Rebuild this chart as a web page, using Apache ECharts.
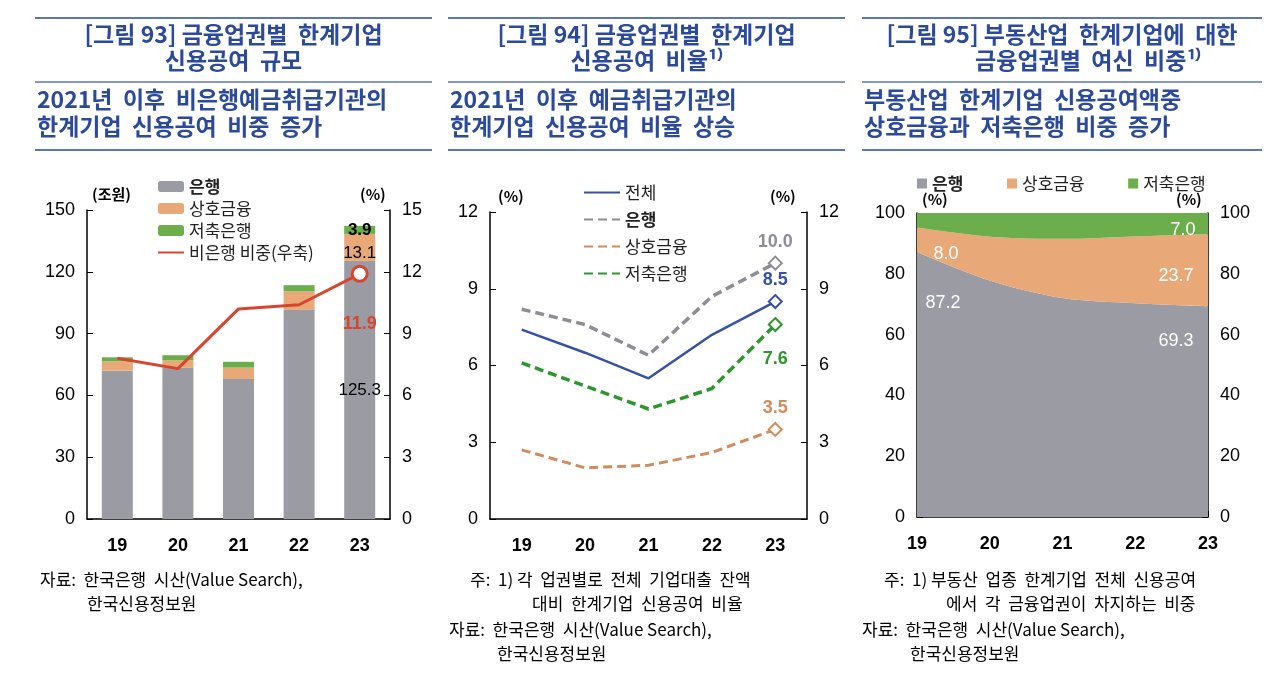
<!DOCTYPE html>
<html><head><meta charset="utf-8">
<script src="https://cdn.jsdelivr.net/npm/echarts@6/dist/echarts.min.js"></script>
<style>html,body{margin:0;background:#fff}#c{width:1280px;height:690px}</style>
</head><body><div id="c"></div>
<script>
// 공통 카테고리
var years = ['19', '20', '21', '22', '23'];

// 그림 93 (조원, %)
var bankAmt = [72, 73.5, 68, 101.5, 125.3];
var mutualAmt = [4.5, 3.5, 5.5, 9, 13.1];
var savingsAmt = [2, 2.5, 2.8, 3, 3.9];
var nonBankShare = [7.8, 7.3, 10.2, 10.4, 11.9];

// 그림 94 (%)
var ratioAll = [7.4, 6.5, 5.5, 7.2, 8.5];
var ratioBank = [8.2, 7.6, 6.4, 8.7, 10.0];
var ratioMutual = [2.7, 2.0, 2.1, 2.6, 3.5];
var ratioSavings = [6.1, 5.2, 4.3, 5.1, 7.6];

// 그림 95 (%)
var shareBank = [87.2, 77.8, 72, 70.3, 69.3];
var shareMutual = [8.0, 14.4, 19.5, 22, 23.7];
var shareSavings = [4.9, 7.8, 8.5, 7.7, 7.0];

var FONT = '"Noto Sans CJK KR", sans-serif';
var BLUE = '#2b4a9c', RULE = '#5a78b8';
var cGray = '#9b9ba4', cOrange = '#e8a878', cGreen = '#6cae4c', cRed = '#d8452f';

var chart = echarts.init(document.getElementById('c'));

function fmt1(p) { return Number(p.value).toFixed(1); }

function axisY(grid, idx, pos, max, step) {
  return {
    type: 'value', gridIndex: grid, position: pos, min: 0, max: max, interval: step,
    splitLine: {show: false},
    axisLine: {show: true, lineStyle: {color: '#000', width: 1.5}},
    axisTick: {show: true, inside: true, length: 6, lineStyle: {color: '#000'}},
    axisLabel: {color: '#000', fontSize: 18, fontFamily: 'Arial', margin: 12}
  };
}
function axisX(grid, gap) {
  return {
    type: 'category', gridIndex: grid, data: years, boundaryGap: gap,
    axisLine: {lineStyle: {color: '#000', width: 1.5}},
    axisTick: {inside: true, length: 6, lineStyle: {color: '#000'}},
    axisLabel: {color: '#000', fontSize: 18, fontWeight: 'bold', fontFamily: 'Arial', margin: 18}
  };
}

function txt(x, y, s, opt) {
  opt = opt || {};
  return {type: 'text', left: x, top: y, style: {text: s, fill: opt.fill || '#000',
    font: (opt.weight || 'normal') + ' ' + (opt.size || 17) + 'px ' + FONT, textAlign: opt.align || 'left'}};
}
function rule(x1, x2, y, w) {
  return {type: 'line', shape: {x1: x1, y1: y, x2: x2, y2: y}, style: {stroke: RULE, lineWidth: w || 2}};
}
function header(x1, x2, l1, l2, s1, s2) {
  var cx = (x1 + x2) / 2, out = [rule(x1, x2, 18, 2), rule(x1, x2, 82, 1.5), rule(x1, x2, 150, 2)];
  [[l1, 23], [l2, 49], [s1, 88], [s2, 115]].forEach(function (p, i) {
    out.push({type: 'text', x: i < 2 ? cx : x1 + 2, y: p[1], style: {text: p[0], fill: BLUE,
      font: 'bold 23px ' + FONT, textAlign: i < 2 ? 'center' : 'left'}});
  });
  return out;
}

var graphics = []
  .concat(header(35, 432, '[그림 93] 금융업권별  한계기업', '신용공여  규모', '2021년  이후  비은행예금취급기관의', '한계기업  신용공여  비중  증가'))
  .concat(header(448, 845, '[그림 94] 금융업권별  한계기업', '신용공여  비율¹⁾', '2021년  이후  예금취급기관의', '한계기업  신용공여  비율  상승'))
  .concat(header(862, 1262, '[그림 95] 부동산업  한계기업에  대한', '          금융업권별  여신  비중¹⁾', '부동산업  한계기업  신용공여액중', '상호금융과  저축은행  비중  증가'))
  .concat([
    txt(92, 187, '(조원)', {size: 15, weight: 'bold'}), txt(360, 187, '(%)', {size: 15, weight: 'bold'}),
    txt(498, 189, '(%)', {size: 15, weight: 'bold'}), txt(770, 189, '(%)', {size: 15, weight: 'bold'}),
    txt(922, 192, '(%)', {size: 15, weight: 'bold'}), txt(1176, 192, '(%)', {size: 15, weight: 'bold'}),
    txt(40, 571, '자료:  한국은행  시산(Value Search),'), txt(87, 595, '한국신용정보원'),
    txt(470, 571, '주:  1) 각  업권별로  전체  기업대출  잔액'), txt(532, 595, '대비  한계기업  신용공여  비율'),
    txt(449, 621, '자료:  한국은행  시산(Value Search),'), txt(497, 645, '한국신용정보원'),
    txt(884, 571, '주:  1) 부동산  업종  한계기업  전체  신용공여'), txt(946, 595, '에서  각  금융업권이  차지하는  비중'),
    txt(862, 621, '자료:  한국은행  시산(Value Search),'), txt(910, 645, '한국신용정보원')
  ]);

function endOnly(arr, extra) {
  return arr.map(function (v, i) {
    if (i < arr.length - 1) return {value: v, symbolSize: 0};
    return Object.assign({value: v}, extra);
  });
}
function labeled(arr, map) {
  return arr.map(function (v, i) {
    if (!map[i]) return v;
    return {value: v, label: {show: true, position: 'inside', offset: map[i], color: '#fff', fontSize: 18,
      fontFamily: 'Arial', formatter: fmt1}};
  });
}
function endLabel(color, pos, dist) {
  return {show: true, position: pos, distance: dist || 5, color: color, fontWeight: 'bold', fontSize: 18,
    fontFamily: 'Arial', formatter: fmt1};
}

var lg = {fontFamily: FONT, fontSize: 17, color: '#222'};

chart.setOption({
  animation: false,
  textStyle: {fontFamily: FONT},
  graphic: graphics,
  legend: [
    {orient: 'vertical', left: 152, top: 173, itemGap: 5, itemWidth: 26, itemHeight: 11, textStyle: lg,
      itemStyle: {opacity: 0},
      data: [{name: '은행', textStyle: {fontWeight: 'bold'}, itemStyle: {opacity: 1}},
        {name: '상호금융', itemStyle: {opacity: 1}}, {name: '저축은행', itemStyle: {opacity: 1}}, '비은행 비중(우축)']},
    {orient: 'vertical', left: 578, top: 179, itemGap: 10, itemWidth: 36, itemHeight: 10, textStyle: lg,
      itemStyle: {opacity: 0},
      data: ['전체', {name: '은행 ', textStyle: {fontWeight: 'bold'}}, '상호금융 ', '저축은행 ']},
    {orient: 'horizontal', left: 912, top: 170, itemGap: 36, itemWidth: 10, itemHeight: 10, textStyle: lg,
      icon: 'rect',
      data: [{name: '은행  ', textStyle: {fontWeight: 'bold'}}, '상호금융  ', '저축은행  ']}
  ],
  grid: [
    {left: 87, top: 210, width: 303, height: 309},
    {left: 490, top: 212, width: 317, height: 307},
    {left: 917, top: 213, width: 291, height: 304}
  ],
  xAxis: [axisX(0, true), axisX(1, true), axisX(2, false)],
  yAxis: [
    axisY(0, 0, 'left', 150, 30), axisY(0, 1, 'right', 15, 3),
    axisY(1, 2, 'left', 12, 3), axisY(1, 3, 'right', 12, 3),
    axisY(2, 4, 'left', 100, 20), axisY(2, 5, 'right', 100, 20)
  ],
  series: [
    {name: '은행', type: 'bar', stack: 'a', xAxisIndex: 0, yAxisIndex: 0, barWidth: 31, itemStyle: {color: cGray},
      data: bankAmt.map(function (v, i) { return i === 4 ? {value: v, label: {show: true, position: 'inside', fontSize: 17, color: '#000', fontFamily: 'Arial'}} : v; })},
    {name: '상호금융', type: 'bar', stack: 'a', xAxisIndex: 0, yAxisIndex: 0, itemStyle: {color: cOrange},
      data: mutualAmt.map(function (v, i) { return i === 4 ? {value: v, label: {show: true, position: 'inside', offset: [0, 6], fontSize: 17, color: '#000', fontFamily: 'Arial'}} : v; })},
    {name: '저축은행', type: 'bar', stack: 'a', xAxisIndex: 0, yAxisIndex: 0, itemStyle: {color: cGreen},
      data: savingsAmt.map(function (v, i) { return i === 4 ? {value: v, label: {show: true, position: 'inside', fontSize: 17, fontWeight: 'bold', color: '#000', fontFamily: 'Arial'}} : v; })},
    {name: '비은행 비중(우축)', type: 'line', xAxisIndex: 0, yAxisIndex: 1, symbol: 'circle',
      lineStyle: {color: cRed, width: 3}, itemStyle: {color: cRed},
      data: endOnly(nonBankShare, {symbolSize: 15, itemStyle: {color: '#fff', borderColor: cRed, borderWidth: 3},
        label: {show: true, position: 'bottom', distance: 32, color: cRed, fontSize: 18, fontWeight: 'bold', fontFamily: 'Arial'}})},

    {name: '전체', type: 'line', xAxisIndex: 1, yAxisIndex: 2, symbol: 'diamond', lineStyle: {color: '#3552a8', width: 2.5},
      itemStyle: {color: '#3552a8'},
      data: endOnly(ratioAll, {symbolSize: 13, itemStyle: {color: '#fff', borderColor: '#3552a8', borderWidth: 2, opacity: 1},
        label: endLabel('#3552a8', 'top')})},
    {name: '은행 ', type: 'line', xAxisIndex: 1, yAxisIndex: 2, symbol: 'diamond', lineStyle: {color: '#8d8d96', width: 3.5, type: [9, 5]},
      itemStyle: {color: '#8d8d96'},
      data: endOnly(ratioBank, {symbolSize: 13, itemStyle: {color: '#fff', borderColor: '#8d8d96', borderWidth: 2, opacity: 1},
        label: endLabel('#8d8d96', 'top')})},
    {name: '상호금융 ', type: 'line', xAxisIndex: 1, yAxisIndex: 2, symbol: 'diamond', lineStyle: {color: '#d28b5c', width: 3, type: [9, 5]},
      itemStyle: {color: '#d28b5c'},
      data: endOnly(ratioMutual, {symbolSize: 13, itemStyle: {color: '#fff', borderColor: '#d28b5c', borderWidth: 2, opacity: 1},
        label: endLabel('#d28b5c', 'top')})},
    {name: '저축은행 ', type: 'line', xAxisIndex: 1, yAxisIndex: 2, symbol: 'diamond', lineStyle: {color: '#2f962f', width: 3.5, type: [9, 5]},
      itemStyle: {color: '#2f962f'},
      data: endOnly(ratioSavings, {symbolSize: 13, itemStyle: {color: '#fff', borderColor: '#2f962f', borderWidth: 2, opacity: 1},
        label: endLabel('#2f962f', 'bottom', 18)})},

    {name: '은행  ', type: 'line', stack: 's', xAxisIndex: 2, yAxisIndex: 4, smooth: 0.3, symbolSize: 0,
      lineStyle: {width: 0}, itemStyle: {color: cGray}, areaStyle: {color: cGray, opacity: 1},
      data: labeled(shareBank, {0: [26, 51], 4: [-32, 35]})},
    {name: '상호금융  ', type: 'line', stack: 's', xAxisIndex: 2, yAxisIndex: 4, smooth: 0.3, symbolSize: 0,
      lineStyle: {width: 0}, itemStyle: {color: cOrange}, areaStyle: {color: cOrange, opacity: 1},
      data: labeled(shareMutual, {0: [29, 26], 4: [-32, 42]})},
    {name: '저축은행  ', type: 'line', stack: 's', xAxisIndex: 2, yAxisIndex: 4, smooth: 0.3, symbolSize: 0,
      lineStyle: {width: 0}, itemStyle: {color: cGreen}, areaStyle: {color: cGreen, opacity: 1},
      data: labeled(shareSavings, {0: [23, 13], 4: [-25, 17]})}
  ]
});
</script></body></html>
